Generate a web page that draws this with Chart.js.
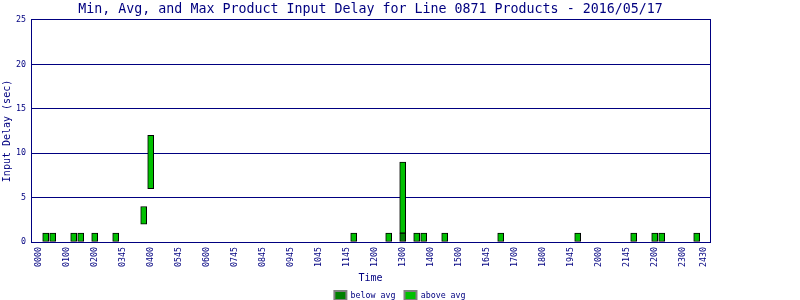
<!DOCTYPE html>
<html>
<head>
<meta charset="utf-8">
<script src="https://cdn.jsdelivr.net/npm/chart.js@4/dist/chart.umd.min.js"></script>
<style>
  html, body { margin: 0; padding: 0; background: #ffffff; }
  #wrap { width: 800px; height: 300px; }
</style>
</head>
<body>
<div id="wrap"><canvas id="c" width="800" height="300"></canvas></div>
<script>
// ---- data ----
const chartTitle = 'Min, Avg, and Max Product Input Delay for Line 0871 Products - 2016/05/17';
const tickLabels = ['0000','0100','0200','0345','0400','0545','0600','0745','0845','0945','1045','1145','1200','1300','1400','1500','1645','1700','1800','1945','2000','2145','2200','2300','2430'];
const tickSlots  = [0,4,8,12,16,20,24,28,32,36,40,44,48,52,56,60,64,68,72,76,80,84,88,92,95];
const barSlots = [1,2,5,6,8,11,15,16,45,50,52,54,55,58,66,77,85,88,89,94];
const minVals  = [0,0,0,0,0,0, 2, 6,0,0,0,0,0,0,0,0,0,0,0,0];
const avgVals  = [0,0,0,0,0,0, 2, 6,0,0,1,0,0,0,0,0,0,0,0,0];
const maxVals  = [1,1,1,1,1,1, 4,12,1,1,9,1,1,1,1,1,1,1,1,1];
const seriesNames = ['below avg', 'above avg'];

const NAVY = '#000080';
const MONO = 'DejaVu Sans Mono';

const belowData = [];
const aboveData = [];
barSlots.forEach((s, i) => {
  if (avgVals[i] > minVals[i]) belowData.push({x: s, y: [minVals[i], avgVals[i]]});
  if (maxVals[i] > avgVals[i]) aboveData.push({x: s, y: [avgVals[i], maxVals[i]]});
});

new Chart(document.getElementById('c'), {
  type: 'bar',
  data: {
    datasets: [
      { label: seriesNames[0], data: belowData, backgroundColor: '#008000', borderColor: '#000000',
        borderWidth: 1, borderSkipped: false, barThickness: 6, grouped: false },
      { label: seriesNames[1], data: aboveData, backgroundColor: '#00c000', borderColor: '#000000',
        borderWidth: 1, borderSkipped: false, barThickness: 6, grouped: false }
    ]
  },
  options: {
    responsive: false,
    animation: false,
    devicePixelRatio: 1,
    layout: { padding: { top: 0, left: 0, right: 0, bottom: -10 } },
    plugins: {
      tooltip: { enabled: false },
      title: {
        display: true, text: chartTitle, color: NAVY, fullSize: false,
        font: { family: MONO, size: 13.3, weight: 'normal' },
        padding: { top: 2, bottom: 2 }
      },
      legend: {
        display: true, position: 'bottom',
        labels: {
          color: NAVY, boxWidth: 12, boxHeight: 9, padding: 9,
          font: { family: MONO, size: 8.3 },
          generateLabels: (chart) => {
            const items = Chart.defaults.plugins.legend.labels.generateLabels(chart);
            items.forEach(it => { it.strokeStyle = '#808080'; it.lineWidth = 2; });
            return items;
          }
        }
      }
    },
    scales: {
      x: {
        type: 'linear', min: -1.1, max: 95.9, offset: false,
        afterBuildTicks: (scale) => { scale.ticks = tickSlots.map(v => ({ value: v })); },
        afterFit: (scale) => { scale.height = 40; },
        ticks: {
          autoSkip: false, maxRotation: 90, minRotation: 90, padding: 5,
          color: NAVY, font: { family: MONO, size: 8.3 },
          callback: (value, index) => tickLabels[index]
        },
        grid: { display: false, drawTicks: false, offset: false },
        border: { display: true, color: NAVY, width: 1 },
        title: { display: true, text: 'Time', color: NAVY, font: { family: MONO, size: 10 },
                 padding: { top: 0, bottom: -2 } }
      },
      y: {
        type: 'linear', position: 'left', min: 0, max: 25,
        afterFit: (scale) => { scale.width = 31; },
        ticks: { stepSize: 5, padding: 5, color: NAVY, font: { family: MONO, size: 8.3 } },
        grid: { color: NAVY, lineWidth: 1, drawTicks: false },
        border: { display: true, color: NAVY, width: 1 },
        title: { display: true, text: 'Input Delay (sec)', color: NAVY, font: { family: MONO, size: 10 },
                 padding: { top: 1, bottom: 0 } }
      },
      y2: {
        type: 'linear', position: 'right', min: 0, max: 25,
        afterFit: (scale) => { scale.width = 90; },
        ticks: { display: false },
        grid: { display: false, drawTicks: false },
        border: { display: true, color: NAVY, width: 1 }
      }
    }
  }
});
</script>
</body>
</html>
